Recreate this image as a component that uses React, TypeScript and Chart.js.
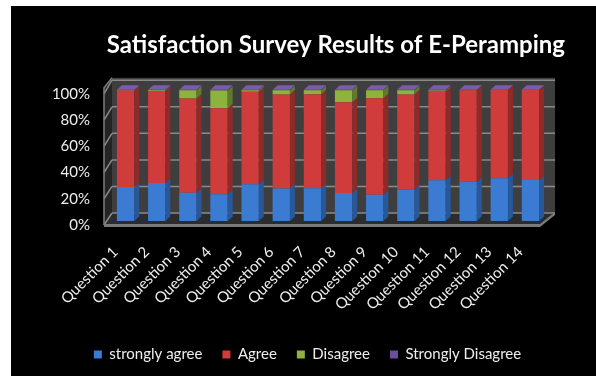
import React, { useEffect, useRef } from "react";
import { Chart, registerables } from "chart.js";

Chart.register(...registerables);

const categories = [
  "Question 1", "Question 2", "Question 3", "Question 4", "Question 5",
  "Question 6", "Question 7", "Question 8", "Question 9", "Question 10",
  "Question 11", "Question 12", "Question 13", "Question 14",
];

const stronglyAgree = [26, 29, 21.6, 20.3, 28, 24.7, 25, 21.4, 20, 24, 31, 30, 32.6, 31.3];
const agree = [73.5, 70, 71.8, 65.7, 70.5, 71.7, 71.7, 69.2, 73.6, 72.4, 67.7, 69.7, 67.2, 68.5];
const disagree = [0.3, 0.7, 6.3, 13.5, 1.2, 3.3, 3.0, 9.1, 6.1, 3.3, 0.8, 0.2, 0.1, 0.1];
const stronglyDisagree = [0.2, 0.3, 0.3, 0.5, 0.3, 0.3, 0.3, 0.3, 0.3, 0.3, 0.5, 0.1, 0.1, 0.1];

const seriesNames = ["strongly agree", "Agree", "Disagree", "Strongly Disagree"];
const frontColors = ["#3b7cd2", "#d03c3b", "#8db33f", "#6b4f9e"];
const sideColors = ["#28589a", "#8e2a2a", "#5f7b2a", "#47346c"];
const topColors = ["#5e97de", "#e26262", "#a8c95e", "#7a5cab"];

const FONT = "Lato, 'Open Sans', sans-serif";

// depth of each bar's side and top faces
const DX = 5;
const DY = -4.5;

const wallPlugin = {
  id: "wall3d",
  beforeDatasetsDraw(chart: any) {
    const { ctx, chartArea: a, scales } = chart;
    const y = scales.y;
    const L = a.left, R = a.right, T = a.top, B = a.bottom;
    const backL = L + 2, backR = R + 9, backB = B - 8, backT = T - 12;
    const frontL = L - 6, frontR = R - 6, frontB = B + 4;
    const backY = (v: number) => backB - (B - y.getPixelForValue(v)) * 1.012;
    const frontY = (v: number) => y.getPixelForValue(v) + 4;

    ctx.save();
    // back wall
    ctx.fillStyle = "#3e3e3e";
    ctx.fillRect(backL, backT, backR - backL, backB - backT);
    // side wall
    ctx.fillStyle = "#242424";
    ctx.beginPath();
    ctx.moveTo(frontL, frontB);
    ctx.lineTo(frontL, T - 2);
    ctx.lineTo(backL, backT);
    ctx.lineTo(backL, backB);
    ctx.closePath();
    ctx.fill();
    // floor
    ctx.fillStyle = "#2c2c2c";
    ctx.beginPath();
    ctx.moveTo(frontL, frontB);
    ctx.lineTo(frontR, frontB);
    ctx.lineTo(backR, backB);
    ctx.lineTo(backL, backB);
    ctx.closePath();
    ctx.fill();

    // grid lines on back and side walls
    ctx.strokeStyle = "#8a8a8a";
    ctx.lineWidth = 1.5;
    for (let v = 0; v <= 100; v += 20) {
      const by = backY(v);
      ctx.beginPath();
      ctx.moveTo(backL, by);
      ctx.lineTo(backR, by);
      ctx.stroke();
      ctx.beginPath();
      ctx.moveTo(frontL, frontY(v));
      ctx.lineTo(backL, by);
      ctx.stroke();
    }
    // wall and floor edges
    ctx.strokeStyle = "#7c7c7c";
    ctx.lineWidth = 1.5;
    ctx.beginPath();
    ctx.moveTo(backL, backT);
    ctx.lineTo(frontL, T - 2);
    ctx.lineTo(frontL, frontB);
    ctx.stroke();
    ctx.fillStyle = "#7a7a7a";
    ctx.fillRect(frontL, frontB - 1, frontR - frontL, 3);
    ctx.beginPath();
    ctx.moveTo(frontR, frontB - 1);
    ctx.lineTo(backR, backB - 1);
    ctx.lineTo(backR, backB + 2);
    ctx.lineTo(frontR, frontB + 2);
    ctx.closePath();
    ctx.fill();
    ctx.restore();
  },
  afterDatasetsDraw(chart: any) {
    const { ctx } = chart;
    const n = chart.data.labels.length;
    ctx.save();
    chart.data.datasets.forEach((_ds: any, di: number) => {
      const meta = chart.getDatasetMeta(di);
      meta.data.forEach((bar: any) => {
        const { x, y, base, width } = bar.getProps(["x", "y", "base", "width"], true);
        const r = x + width / 2;
        ctx.fillStyle = sideColors[di];
        ctx.beginPath();
        ctx.moveTo(r, y);
        ctx.lineTo(r + DX, y + DY);
        ctx.lineTo(r + DX, base + DY);
        ctx.lineTo(r, base);
        ctx.closePath();
        ctx.fill();
      });
    });
    for (let i = 0; i < n; i++) {
      let top = -1;
      chart.data.datasets.forEach((ds: any, di: number) => {
        if (ds.data[i] > 0) top = di;
      });
      if (top < 0) continue;
      const bar = chart.getDatasetMeta(top).data[i];
      const { x, y, width } = bar.getProps(["x", "y", "width"], true);
      const l = x - width / 2, r = x + width / 2;
      ctx.fillStyle = topColors[top];
      ctx.beginPath();
      ctx.moveTo(l, y);
      ctx.lineTo(r, y);
      ctx.lineTo(r + DX, y + DY);
      ctx.lineTo(l + DX, y + DY);
      ctx.closePath();
      ctx.fill();
    }
    ctx.restore();
  },
};

export default function App() {
  const canvasRef = useRef<HTMLCanvasElement>(null);

  useEffect(() => {
    const canvas = canvasRef.current;
    if (!canvas) return;
    const values = [stronglyAgree, agree, disagree, stronglyDisagree];
    const chart = new Chart(canvas, {
      type: "bar",
      data: {
        labels: categories,
        datasets: values.map((data, i) => ({
          label: seriesNames[i],
          data,
          backgroundColor: frontColors[i],
          borderWidth: 0,
          barPercentage: 0.556,
          categoryPercentage: 1,
        })),
      },
      options: {
        responsive: false,
        animation: false,
        layout: { padding: { left: 39, right: 31, top: 0, bottom: 4 } },
        scales: {
          x: {
            stacked: true,
            grid: { display: false, drawTicks: false },
            border: { display: false },
            ticks: {
              color: "#eeeeee",
              font: { family: FONT, size: 15 },
              minRotation: 45,
              maxRotation: 45,
              labelOffset: -10,
              padding: 22,
            },
            afterFit: (s: any) => {
              s.height = 106;
            },
          },
          y: {
            stacked: true,
            min: 0,
            max: 100,
            grid: { display: false, drawTicks: false },
            border: { display: false },
            ticks: {
              stepSize: 20,
              color: "#eeeeee",
              font: { family: FONT, size: 15 },
              padding: 20,
              labelOffset: 4,
              callback: (v: any) => `${v}%`,
            },
            afterFit: (s: any) => {
              s.width = 60;
            },
          },
          y2: {
            type: "linear",
            position: "right",
            display: true,
            grid: { display: false, drawTicks: false },
            border: { display: false },
            ticks: { display: false },
            afterFit: (s: any) => {
              s.width = 19;
            },
          },
        },
        plugins: {
          title: {
            display: true,
            text: "Satisfaction Survey Results of E-Peramping",
            align: "end",
            color: "#ffffff",
            font: { family: FONT, size: 24, weight: "bold" },
            padding: { top: 25, bottom: 30 },
          },
          legend: {
            position: "bottom",
            labels: {
              color: "#eeeeee",
              font: { family: FONT, size: 15 },
              boxWidth: 8,
              boxHeight: 8,
              padding: 20,
            },
          },
          tooltip: { enabled: false },
        },
      },
      plugins: [wallPlugin],
    });
    return () => chart.destroy();
  }, []);

  return (
    <div
      style={{
        position: "absolute",
        left: 11,
        top: 6,
        width: 585,
        height: 370,
        background: "#000000",
      }}
    >
      <canvas ref={canvasRef} width={585} height={370} />
    </div>
  );
}
